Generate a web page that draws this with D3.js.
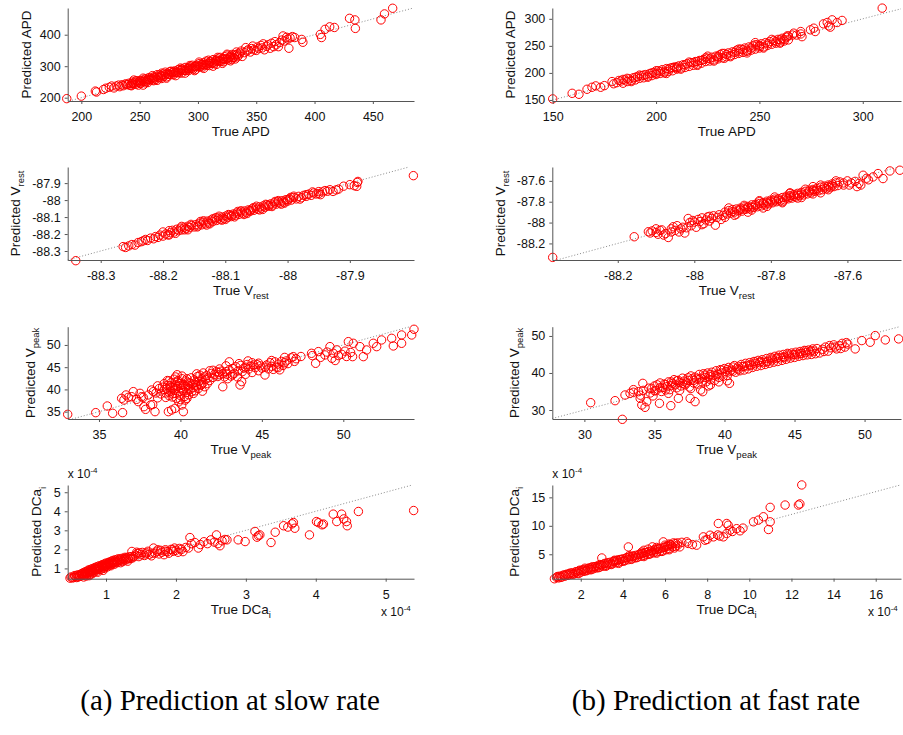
<!DOCTYPE html>
<html>
<head>
<meta charset="utf-8">
<script src="https://cdn.jsdelivr.net/npm/d3@7"></script>
<style>
  body { margin: 0; background: #fff; }
</style>
</head>
<body>
<div class="chart"></div>
<script>
// ---- DATA: [true, predicted] pairs ----

const apdSlow = [
  [187.5,197],[200,205],[212,221],[213,218],[219,226],[221,230],[224,233],[226,237],[228,231],[230,237],[232,240],[233,235],[235,241],[236,238],[238,244],[239,242],
  [240,241],[241,246],[242,239],[243,245],[244,250],[245,243],[246,249],[247,243],[248,253],[249,249],[250,247],[251,255],[252,251],[253,240],[253,256],[254,252],[255,260],[256,252],[257,259],[258,264],[259,256],[260,261],[261,256],[262,266],[263,263],[264,258],[265,268],[266,264],[267,273],[268,264],[269,270],[270,275],[271,268],[272,274],[273,266],[274,278],[275,274],[276,283],[277,273],[278,280],[279,273],[280,285],[281,281],[282,279],[283,289],[284,279],[285,287],[286,278],[287,291],[288,287],[289,296],[290,286],[291,292],[292,286],[293,298],[294,292],[295,303],[296,291],[297,299],[298,289],[299,303],[300,300],[301,308],[302,298],[303,306],[304,297],[305,311],[306,304],[307,316],[308,303],[309,310],[310,302],[311,316],[312,309],[313,321],[314,308],[315,317],[316,306],[317,323],[318,317],[319,328],[320,315],[321,324],[322,314],[323,330],[324,321],[325,335],[326,320],[327,329],[328,317],[329,337],[330,328],[331,336],[332,323],[333,345],[334,330],[336,342],[338,331],[340,343],
  [243,238],[247,254],[251,245],[255,247],[258,257],[262,254],[265,273],[269,261],[272,281],[276,274],[279,282],[283,281],[286,291],[289,286],[292,295],[295,294],[298,301],[301,298],[304,306],[307,306],[310,314],[313,311],[316,319],[319,317],[322,324],[325,324],[328,332],[331,327],[334,339],
  [245,256],[249,240],[253,262],[257,248],[261,270],[265,255],[269,278],[273,262],[277,284],[281,270],[285,294],[289,278],[293,302],[297,286],[301,313],[305,293],[309,319],[313,300],[317,328],[321,309],[325,338],[329,322],[333,336],[337,348],[244,244],[250,253],[256,256],[262,262],[268,269],[274,274],[280,279],[286,287],[292,291],[298,298],[304,303],[310,309],[316,315],[322,321],[328,328],[335,335],
  [341,359],[342,348],[343,352],[345,345],[346,356],[347,364],[348,352],[350,350],[351,361],[352,356],[354,366],[355,358],[356,371],[357,352],[359,363],[360,368],[362,357],[363,373],[365,362],[366,378],[367,368],[369,362],[370,375],[372,383],[373,396],[374,380],[376,392],[377,386],[378,357],[379,390],[381,394],[383,391],[389,385],[390,376],[405,401],[406,391],[409,417],[413,425],[417,423],[430,452],[434.6,447],[435,420],[457,447],[460,466],[467,484]
];

const apdFast = [
  [150,152],[159.4,162.3],[162.7,160.5],[166.6,169.8],[169,173.5],[170.8,176],[173.2,173.5],[175,176.5],[178.7,184],[179.5,180],[181,182],[183,185],[184,181],[185,187],[186,184],[187,189],[188,186],[189,191],[190,187],[191,193],[192,190],[193,195],[194,191],[195,197],[196,194],[197,199],[198,195],[199,201],[200,197],[201,204],[202,199],[203,206],[204,200],[205,208],[206,203],[207,209],[208,204],[209,211],[210,207],[211,213],[212,209],[213,215],[214,210],[215,217],[216,212],[217,219],[218,214],[219,221],[220,216],[221,223],[222,218],[223,225],[224,221],[225,227],[226,222],[227,229],[228,224],[229,231],[230,226],[231,234],[232,228],[233,236],[234,230],[235,237],[236,232],[237,239],[238,234],[239,242],[240,236],[241,244],[242,238],[243,246],[244,240],[245,248],[246,242],[247,250],[248,244],[249,252],[250,246],[251,254],[252,248],[253,256],[254,251],[255,258],[256,253],[257,260],[258,255],[259,262],[260,257],[261,264],[262,259],[263,266],[264,261],
  [182,186],[186,190],[190,192],[194,196],[198,200],[202,203],[206,207],[210,211],[214,215],[218,219],[222,223],[226,226],[230,231],[234,234],[238,238],[242,243],[246,246],[250,251],[254,254],[258,258],[262,262],[225,231],[233,227],[244,237],[248,256],[205,199],
  [184,188],[188,184],[192,196],[196,192],[200,204],[204,202],[208,210],[212,207],[216,220],[220,214],[224,228],[228,222],[232,236],[236,230],[240,244],[244,242],[248,252],[252,246],[256,262],[260,255],[264,268],[200,199],[210,209],[220,221],[230,229],[240,239],[250,249],[260,261],[266,270],[270,272],
  [263.5,268.5],[266.6,273.5],[268,270],[270,276.5],[270.6,267],[274.7,279.6],[276.3,282.7],[277,276.5],[281,290.7],[282.8,293.2],[283.5,287],[284.3,284.6],[285.2,298.1],[287.6,293.2],[290,297],[309.4,319.8]
];

const vrestSlow = [
  [-88.34,-88.357],[-88.264,-88.274],[-88.26,-88.279],[-88.255,-88.27],[-88.25,-88.262],[-88.245,-88.265],[-88.24,-88.25],[-88.235,-88.245],[-88.232,-88.24],[-88.228,-88.232],[-88.225,-88.238],[-88.22,-88.224],[-88.215,-88.228],[-88.212,-88.215],[-88.208,-88.22],[-88.205,-88.206],[-88.2,-88.212],[-88.196,-88.2],[-88.192,-88.205],[-88.188,-88.192],[-88.185,-88.178],[-88.182,-88.188],[-88.178,-88.172],[-88.175,-88.18],[-88.172,-88.165],[-88.17,-88.176],[-88.166,-88.16],[-88.163,-88.168],[-88.16,-88.154],[-88.157,-88.162],[-88.154,-88.15],[-88.15,-88.158],[-88.147,-88.144],[-88.144,-88.152],[-88.141,-88.136],[-88.138,-88.146],[-88.135,-88.13],[-88.132,-88.14],[-88.129,-88.124],[-88.126,-88.134],[-88.123,-88.118],[-88.12,-88.127],[-88.117,-88.112],[-88.114,-88.12],[-88.111,-88.106],[-88.108,-88.115],[-88.105,-88.1],[-88.102,-88.109],[-88.099,-88.094],[-88.096,-88.103],[-88.093,-88.088],[-88.09,-88.097],[-88.087,-88.082],[-88.084,-88.09],[-88.081,-88.076],[-88.078,-88.084],[-88.075,-88.07],[-88.072,-88.078],[-88.069,-88.064],[-88.066,-88.072],[-88.063,-88.058],[-88.06,-88.066],[-88.057,-88.052],[-88.054,-88.06],[-88.051,-88.046],[-88.048,-88.054],[-88.045,-88.04],[-88.042,-88.048],[-88.039,-88.034],[-88.036,-88.042],[-88.033,-88.028],[-88.03,-88.036],[-88.027,-88.022],[-88.024,-88.03],[-88.021,-88.016],[-88.018,-88.024],[-88.015,-88.01],[-88.012,-88.018],[-88.009,-88.004],[-88.006,-88.012],[-88.003,-87.998],[-88,-88.006],[-87.997,-87.992],[-87.994,-88],[-87.99,-87.985],[-87.986,-87.993],[-87.982,-87.978],[-87.978,-87.986],[-87.974,-87.972],[-87.97,-87.978],[-87.966,-87.965],[-87.962,-87.972],[-87.958,-87.958],[-87.954,-87.964],[-87.95,-87.95],[-87.947,-87.968],[-87.944,-87.952],[-87.94,-87.944],[-87.936,-87.948],[-87.932,-87.939],[-87.927,-87.949],[-87.922,-87.94],[-87.918,-87.935],[-87.91,-87.918],[-87.9,-87.909],[-87.893,-87.915],[-87.889,-87.919],[-87.888,-87.896],[-87.887,-87.89],[-87.798,-87.856],
  [-88.19,-88.18],[-88.18,-88.196],[-88.165,-88.175],[-88.155,-88.143],[-88.145,-88.158],[-88.135,-88.122],[-88.125,-88.14],[-88.115,-88.103],[-88.105,-88.118],[-88.095,-88.085],[-88.085,-88.099],[-88.075,-88.063],[-88.065,-88.079],[-88.055,-88.045],[-88.045,-88.058],[-88.035,-88.025],[-88.025,-88.038],[-88.015,-88.003],[-88.005,-88.018],[-87.995,-87.984],
  [-88.2,-88.188],[-88.19,-88.205],[-88.17,-88.155],[-88.16,-88.175],[-88.14,-88.126],[-88.13,-88.147],[-88.11,-88.095],[-88.1,-88.114],[-88.08,-88.067],[-88.07,-88.085],[-88.05,-88.036],[-88.04,-88.055],[-88.02,-88.008],[-88.01,-88.024],[-87.99,-87.977],[-87.98,-87.994],[-87.96,-87.952],[-87.95,-87.962],[-88.12,-88.11],[-88.09,-88.09],[-88.06,-88.06],[-88.03,-88.03],[-88.0,-87.997],[-87.97,-87.968]
];

const vrestFast = [
  [-88.37,-88.334],[-88.157,-88.136],
  [-88.12,-88.088],[-88.115,-88.1],[-88.11,-88.08],[-88.1,-88.095],[-88.095,-88.112],[-88.09,-88.075],[-88.085,-88.07],[-88.08,-88.12],[-88.075,-88.105],[-88.068,-88.143],[-88.06,-88.06],[-88.055,-88.04],[-88.05,-88.075],[-88.045,-88.03],[-88.04,-88.09],[-88.035,-88.06],[-88.03,-88.045],[-88.025,-88.1],[-88.02,-88.05],[-88.016,-87.961],[-88.012,-88.0],[-88.008,-88.03],[-88.004,-87.98],[-88,-87.995],[-87.995,-88.045],[-87.99,-87.97],[-87.985,-87.99],[-87.98,-87.955],[-87.975,-88.01],[-87.97,-87.975],[-87.965,-87.945],[-87.96,-87.985],[-87.955,-87.96],[-87.95,-87.935],[-87.945,-88.025],[-87.94,-87.95],[-87.935,-87.925],[-87.93,-87.97],
  [-87.925,-87.93],[-87.92,-87.9],[-87.915,-87.918],[-87.91,-87.885],[-87.905,-87.91],[-87.9,-87.875],[-87.895,-87.9],[-87.89,-87.87],[-87.885,-87.888],[-87.88,-87.862],[-87.875,-87.89],[-87.87,-87.85],[-87.865,-87.872],[-87.86,-87.845],[-87.855,-87.868],[-87.85,-87.83],[-87.845,-87.855],[-87.84,-87.825],[-87.835,-87.848],[-87.83,-87.818],[-87.825,-87.84],[-87.82,-87.808],[-87.815,-87.83],[-87.81,-87.795],[-87.805,-87.82],[-87.8,-87.785],[-87.795,-87.81],[-87.79,-87.775],[-87.785,-87.8],[-87.78,-87.77],[-87.775,-87.79],[-87.77,-87.76],[-87.765,-87.782],[-87.76,-87.748],[-87.755,-87.772],[-87.75,-87.74],[-87.745,-87.765],[-87.74,-87.73],[-87.735,-87.755],[-87.73,-87.72],[-87.725,-87.742],[-87.72,-87.71],[-87.715,-87.735],[-87.71,-87.7],[-87.705,-87.725],[-87.7,-87.69],[-87.695,-87.715],[-87.69,-87.682],[-87.685,-87.7],[-87.68,-87.672],[-87.675,-87.695],[-87.67,-87.66],[-87.665,-87.685],[-87.66,-87.65],[-87.655,-87.675],[-87.65,-87.64],[-87.645,-87.665],[-87.64,-87.63],[-87.635,-87.655],[-87.63,-87.62],[-87.625,-87.645],[-87.62,-87.61],
  [-87.9,-87.895],[-87.88,-87.878],[-87.86,-87.858],[-87.84,-87.838],[-87.82,-87.82],[-87.8,-87.8],[-87.78,-87.782],[-87.76,-87.762],[-87.74,-87.745],[-87.72,-87.725],[-87.7,-87.705],[-87.68,-87.688],[-87.66,-87.668],[-87.64,-87.648],[-87.895,-87.93],[-87.86,-87.9],[-87.82,-87.86],[-87.77,-87.81],[-87.72,-87.76],[-87.67,-87.715],[-87.69,-87.655],[-87.75,-87.715],[-87.83,-87.79],
  [-87.92,-87.95],[-87.91,-87.86],[-87.89,-87.92],[-87.87,-87.835],[-87.85,-87.88],[-87.83,-87.8],[-87.81,-87.845],[-87.79,-87.755],[-87.77,-87.8],[-87.75,-87.72],[-87.73,-87.765],[-87.71,-87.68],[-87.69,-87.725],[-87.67,-87.64],[-87.65,-87.685],[-87.63,-87.6],[-87.61,-87.64],[-87.87,-87.87],[-87.85,-87.85],[-87.81,-87.81],[-87.79,-87.79],[-87.75,-87.755],[-87.73,-87.735],[-87.69,-87.695],[-87.65,-87.655],[-87.61,-87.62],[-87.96,-87.94],[-87.98,-88.02],[-88.06,-88.09],[-88.1,-88.06],
  [-87.6,-87.6],[-87.595,-87.64],[-87.59,-87.62],[-87.58,-87.605],[-87.575,-87.655],[-87.57,-87.625],[-87.565,-87.64],[-87.559,-87.546],[-87.55,-87.575],[-87.545,-87.59],[-87.533,-87.562],[-87.52,-87.53],[-87.507,-87.578],[-87.489,-87.505],[-87.463,-87.498]
];

const vpeakSlow = [
  [33.08,34.4],[34.8,34.78],[35.51,36.27],[35.84,34.63],[36.39,38.0],[36.45,34.78],[36.53,37.62],[36.66,38.75],[36.8,38.22],[37.0,38.37],[37.11,39.5],[37.31,37.77],[37.41,37.25],[37.52,39.12],[37.62,38.37],[37.72,38.22],[37.76,36.12],[37.86,35.52],[38.03,38.75],[38.23,39.87],[38.34,39.5],[38.44,35.0],[38.17,36.5],[38.3,36.6],[38.5,39.2],[38.6,38.1],[38.7,40.2],[38.8,39.0],
  [39.26,35.0],[39.46,35.37],[39.67,35.75],[40.08,36.5],[40.18,35.0],[39.9,37.2],[40.3,37.6],
  [38.9,40.5],[39.0,41.3],[39.1,39.2],[39.15,40.1],[39.2,42.0],[39.3,38.6],[39.35,40.8],[39.4,39.6],[39.45,41.6],[39.5,38.3],[39.55,40.3],[39.6,42.3],[39.65,39.1],[39.7,41.0],[39.75,38.0],[39.8,40.6],[39.85,42.0],[39.9,39.4],[39.95,41.4],[40.0,38.6],[40.05,40.2],[40.1,42.4],[40.15,39.8],[40.2,41.1],[40.25,38.4],[40.3,40.6],[40.35,41.9],[40.4,39.3],[40.45,40.9],[40.5,38.8],[40.55,41.5],[40.6,40.0],[40.65,42.6],[40.7,39.5],[40.75,41.2],[40.8,40.4],[40.85,42.1],[40.9,39.7],[40.95,41.6],[41.0,40.8],[41.05,42.9],[41.1,40.2],[41.15,41.8],[41.2,43.2],[41.25,40.9],[41.3,42.4],[41.35,39.6],[41.4,41.5],[41.45,42.8],[41.5,40.6],[41.55,42.2],[41.6,43.1],[41.65,41.3],[41.7,42.6],
  [39.0,40.0],[39.2,40.9],[39.4,40.4],[39.6,39.8],[39.8,41.7],[40.0,40.9],[40.2,39.6],[40.4,42.4],[40.6,41.4],[40.8,39.1],[39.3,41.9],[39.7,42.8],[40.1,43.0],[39.1,38.2],[39.5,39.0],[40.0,37.7],[40.4,38.0],
  [42.0,44.3],[42.4,44.6],[42.8,45.3],[43.2,43.3],[43.6,45.8],[44.0,45.0],[44.4,46.0],[44.8,45.9],[45.2,45.0],[45.6,46.5],[46.0,44.9],[46.4,46.0],[41.0,43.5],[41.4,43.7],[41.8,44.2],[39.3,39.4],[39.7,40.2],[40.1,41.0],[40.5,40.2],[40.9,41.0],[41.3,41.1],[38.6,40.8],[39.8,43.3],
  [41.8,42.0],[41.9,43.6],[42.0,42.7],[42.1,43.4],[42.2,44.0],[42.3,42.9],[42.35,43.8],[42.4,43.3],[42.5,44.1],[42.6,40.6],[42.6,43.5],[42.7,42.8],[42.8,44.0],[42.85,43.4],[42.9,42.4],[43.0,46.2],[43.0,44.4],[43.1,43.0],[43.2,44.7],[43.3,43.6],[43.4,45.1],[43.5,42.8],[43.55,44.2],[43.66,41.0],[43.7,45.4],[43.76,41.75],[43.8,44.0],[43.9,44.8],[44.0,43.4],[44.1,45.6],[44.15,46.4],[44.2,44.6],[44.3,45.2],[44.4,43.8],[44.5,45.5],[44.6,44.9],[44.7,45.6],[44.8,44.2],[44.9,45.3],
  [45.0,44.8],[45.19,43.25],[45.3,45.5],[45.4,44.6],[45.5,46.0],[45.6,45.2],[45.7,44.5],[45.8,46.2],[45.9,45.0],[46.0,45.7],[46.1,44.4],[46.2,46.3],[46.3,45.4],[46.4,47.2],[46.5,46.4],[46.6,45.8],[46.8,47.1],[46.93,47.37],[47.0,46.3],[47.1,46.9],[47.4,47.4],
  [48.05,48.12],[48.1,47.6],[48.3,45.87],[48.47,48.5],[48.6,47.2],[48.87,47.75],[49.0,48.4],[49.18,49.62],[49.3,47.0],[49.39,48.12],[49.5,46.5],[49.6,48.9],[49.7,47.6],[49.9,47.9],[50.1,48.6],[50.2,47.4],[50.31,50.74],[50.45,48.3],[50.57,47.37],[50.61,50.37],[51.02,49.62],[51.23,47.37],[51.43,48.87],[51.84,50.37],[52.05,49.62],[52.35,51.12],[52.97,51.49],[53.07,49.77],[53.58,50.37],[53.58,52.24],[54.2,52.24],[54.34,53.52]
];

const vpeakFast = [
  [30.45,31.98],[32.19,32.52],[32.71,27.48],[32.9,34.05],[33.26,34.5],[33.5,34.8],[33.86,34.95],[33.98,33.15],[34.1,31.35],[34.17,37.2],[34.2,35.3],[34.33,30.72],[34.45,32.25],[34.6,35.9],[34.7,34.6],[34.81,35.85],[35.0,36.5],[35.1,35.2],[35.36,31.8],[35.4,37.3],[35.6,36.1],[35.8,35.4],[36.17,31.17],[36.0,37.6],[36.2,36.6],[36.4,38.2],[36.71,33.15],[36.6,36.0],[36.8,37.4],[37.0,38.6],[37.2,36.8],[37.4,38.0],[37.55,33.15],[37.6,39.2],[37.8,37.3],[37.9,32.25],[38.0,38.4],[38.2,39.6],[38.45,34.95],[38.4,37.6],[38.6,38.8],[38.86,36.5],[38.8,40.0],[39.0,38.2],[39.2,39.4],[39.4,40.6],[39.6,38.8],[39.8,40.0],[40.0,41.2],[40.2,39.3],[40.36,37.2],[40.4,40.5],[40.6,41.6],[40.8,40.2],[41.0,41.0],[41.2,42.3],[41.4,40.8],[41.6,41.9],[41.8,42.8],[42.0,41.5],[42.2,42.5],[42.4,43.4],[42.6,42.0],[42.8,42.9],[43.0,43.9],[43.2,42.6],[43.4,43.5],[43.6,44.5],[43.8,43.1],[44.0,44.1],[44.2,45.0],[44.4,43.7],[44.6,44.6],[44.8,45.4],[45.0,44.2],[45.2,45.1],[45.4,45.8],[45.6,44.7],[45.8,45.5],[46.0,46.2],[46.2,45.0],[46.4,45.9],[46.6,46.6],[46.8,45.4],[47.0,46.4],[47.2,47.0],[47.4,45.9],[47.6,46.8],[47.8,47.6],[48.0,46.5],[48.2,47.4],[48.4,48.0],[48.6,47.0],[48.8,47.8],[49.33,46.5],[49.8,48.75],[50.4,48.3],[50.76,50.1],[51.48,48.93],[52.43,49.2],
  [35.2,36.8],[35.5,35.0],[35.7,37.0],[35.9,36.3],[36.1,35.5],[36.3,37.2],[36.5,36.8],[36.7,38.0],[36.9,36.5],[37.1,37.8],[37.3,37.3],[37.5,36.2],[37.7,38.4],[37.9,38.9],[38.1,37.0],[38.3,38.6],[38.5,39.8],[38.7,37.6],[38.9,39.1],[39.1,40.2],[39.3,38.0],[39.5,39.7],[39.7,40.9],[39.9,39.1],[40.1,40.4],[40.3,41.5],[40.5,40.8],[40.7,42.0],[40.9,41.3],[41.1,40.6],[41.3,41.7],[41.5,42.6],[41.7,41.1],[41.9,42.1],[42.1,43.1],[42.3,41.8],[42.5,42.8],[42.7,43.6],[42.9,42.3],[43.1,43.2],[43.3,44.2],[43.5,42.9],[43.7,43.9],[43.9,44.8],[44.1,43.4],[44.3,44.3],[44.5,45.3],[44.7,44.0],[44.9,44.9],[45.1,45.6],[45.3,44.5],[45.5,45.3],[45.7,46.1],[45.9,44.9],[46.1,45.7],[46.3,46.5],[46.5,45.2],[47.1,45.8],[47.5,47.4],[47.9,47.0],[48.3,46.6],[48.7,48.2],[38.3,35.4],[39.0,36.8],[39.6,37.6],[40.2,37.9],
  [35.0,35.2],[35.4,36.0],[35.8,36.9],[36.2,37.6],[36.6,37.9],[37.0,37.2],[37.4,38.7],[37.8,38.0],[38.2,38.3],[38.6,39.4],[39.0,39.6],[39.4,39.2],[39.8,40.8],[40.2,40.9],[40.6,40.5],[41.0,41.8],[41.4,41.8],[41.8,42.2],[42.2,43.0],[42.6,43.1],[43.0,43.0],[43.4,44.0],[43.8,44.2],[44.2,44.3],[44.6,45.1],[45.0,45.0],[45.4,45.3],[45.8,46.0],[46.2,46.0],[36.0,34.5],[36.8,35.3],[37.6,35.8],[34.9,33.8],[34.0,34.0],[33.5,35.5]
];

// DCa values are in units of 1e-4
const dcaSlow = [
  [0.485,0.49],[0.52,0.5],[0.56,0.58],[0.58,0.52],[0.6,0.65],[0.62,0.58],[0.64,0.7],[0.65,0.62],[0.67,0.76],[0.68,0.66],[0.7,0.82],[0.71,0.7],[0.72,0.6],[0.73,0.86],[0.74,0.76],[0.75,0.92],[0.76,0.8],[0.77,0.68],[0.78,0.95],[0.79,0.85],[0.8,0.98],[0.81,0.9],[0.82,0.78],[0.83,1.02],[0.84,0.94],[0.85,1.06],[0.86,0.98],[0.87,0.86],[0.88,1.1],[0.89,1.02],[0.9,1.13],[0.91,1.05],[0.92,0.94],[0.93,1.16],[0.94,1.08],[0.95,1.2],[0.96,1.12],[0.97,1.0],[0.98,1.24],[0.99,1.16],[1.0,1.28],[1.01,1.19],[1.02,1.08],[1.03,1.3],[1.04,1.22],[1.05,1.34],[1.06,1.26],[1.07,1.14],[1.08,1.38],[1.09,1.3],[1.1,1.42],[1.11,1.33],[1.12,1.22],[1.13,1.45],[1.15,1.37],[1.17,1.5],[1.19,1.4],[1.21,1.3],[1.23,1.53],[1.25,1.46],[1.27,1.58],[1.29,1.5],[1.31,1.38],[1.33,1.6],[1.35,1.52],
  [0.55,0.62],[0.6,0.55],[0.66,0.68],[0.7,0.75],[0.74,0.7],[0.78,0.88],[0.82,0.86],[0.86,0.92],[0.9,1.0],[0.94,1.14],[0.98,1.08],[1.02,1.2],[1.06,1.18],[1.1,1.28],[1.14,1.3],[1.18,1.45],[1.22,1.4],[1.26,1.52],[1.3,1.58],[0.68,0.55],[0.76,0.62],[0.8,0.72],[0.88,0.8],[0.96,0.9],
  [0.5,0.55],[0.54,0.52],[0.58,0.64],[0.62,0.66],[0.66,0.74],[0.7,0.65],[0.72,0.8],[0.76,0.86],[0.8,0.84],[0.84,1.0],[0.88,0.95],[0.92,1.08],[0.96,1.04],[1.0,1.1],[1.04,1.28],[1.08,1.22],[1.12,1.38],[1.16,1.3],[1.2,1.5],[1.24,1.36],[1.28,1.44],[1.32,1.5],[1.36,1.62],[1.38,1.55],[1.44,1.85],[1.48,1.82],[1.58,1.82],[1.66,1.8],[1.74,1.98],[1.85,1.9],[1.95,1.98],[2.05,2.05],
  [1.37,1.89],[1.4,1.62],[1.42,1.7],[1.45,1.78],[1.47,1.62],[1.5,1.72],[1.52,1.84],[1.55,1.68],[1.57,1.76],[1.6,1.9],[1.62,1.74],[1.65,1.66],[1.68,2.07],[1.7,1.8],[1.73,1.9],[1.76,1.76],[1.78,1.95],[1.8,1.85],[1.83,1.72],[1.85,1.98],[1.88,1.88],[1.9,1.8],[1.93,2.0],[1.96,1.9],[1.98,2.07],[2.0,1.95],[2.03,1.85],[2.08,2.0],[2.1,1.88],[2.14,2.1],[2.18,2.07],[2.2,2.62],[2.22,2.3],[2.27,2.36],[2.32,2.07],[2.35,2.25],[2.4,2.4],[2.45,2.3],[2.5,2.5],[2.55,2.38],[2.58,2.76],[2.6,2.3],[2.63,2.19],[2.66,2.45],[2.7,2.52],[2.73,2.5],[2.89,2.5],[2.99,2.41],[3.13,2.94],[3.16,2.64],[3.18,2.72],[3.2,2.76],[3.36,2.36],[3.42,2.9],[3.54,3.24],[3.6,3.17],[3.66,3.34],[3.68,3.41],[3.7,3.11],[3.91,2.76],[4.01,3.46],[4.04,3.4],[4.09,3.29],[4.11,3.33],[4.25,3.85],[4.3,3.46],[4.37,3.85],[4.4,3.6],[4.44,3.46],[4.45,3.24],[4.61,3.99],[5.4,4.04]
];

const dcaFast = [
  [0.75,0.7],[0.85,0.95],[0.95,0.85],[1.0,1.15],[1.1,1.0],[1.15,1.3],[1.25,1.15],[1.3,1.45],[1.4,1.3],[1.45,1.6],[1.55,1.45],[1.6,1.75],[1.7,1.6],[1.75,1.9],[1.85,1.7],[1.9,2.05],[2.0,1.85],[2.05,2.2],[2.15,2.0],[2.2,2.35],[2.3,2.15],[2.35,2.5],[2.45,2.3],[2.5,2.65],[2.6,2.45],[2.65,2.8],[2.75,2.6],[2.8,2.95],[2.9,2.75],[2.95,3.1],[3.0,4.35],[3.05,2.9],[3.1,3.3],[3.2,3.05],[3.25,3.45],[3.35,3.2],[3.4,3.6],[3.5,3.35],[3.55,3.75],[3.65,3.5],[3.7,3.9],[3.8,3.6],[3.85,4.05],[3.95,3.75],[4.0,4.2],[4.1,3.9],[4.15,4.35],[4.25,4.05],[4.26,6.29],[4.3,4.5],[4.4,4.2],[4.45,4.65],[4.55,4.35],[4.6,4.8],[4.7,4.5],[4.75,4.95],[4.85,4.65],[4.9,5.1],[5.0,4.8],[5.05,5.3],[5.15,4.95],[5.2,5.45],[5.3,5.1],[5.35,5.6],[5.45,5.25],[5.5,5.75],[5.6,5.4],[5.65,5.9],[5.75,5.5],[5.8,6.05],[5.9,5.6],[5.92,7.18],[5.95,6.2],[6.05,5.8],[6.1,6.4],[6.2,6.0],[6.25,6.7],[6.35,6.3],[6.4,7.0],[6.5,6.4],[6.6,6.6],[6.7,6.3],[7.03,7.18],[7.1,6.9],[7.3,6.7],[7.5,6.6],[7.82,8.06],[7.9,7.47],[8.0,7.6],[8.14,8.35],[8.3,8.06],[8.53,10.41],[8.5,8.4],[8.6,8.2],[8.77,8.06],[8.93,8.65],[8.93,10.41],[9.0,10.1],[9.09,9.24],[9.2,9.0],[9.4,9.5],[9.56,9.12],[9.7,9.6],[10.2,10.7],[10.43,11.0],[10.67,11.59],[10.99,10.7],[10.91,9.35],[10.99,13.24],[11.7,13.65],[12.33,13.65],[12.4,13.85],[12.49,17.18],
  [1.2,1.35],[1.5,1.7],[1.8,1.95],[2.1,2.25],[2.4,2.6],[2.7,2.85],[3.0,3.15],[3.3,3.5],[3.6,3.8],[3.9,4.1],[4.2,4.4],[4.5,4.7],[4.8,5.0],[5.1,5.3],[5.4,5.6],[5.7,6.0],[6.0,6.3],[6.3,6.6],[1.9,1.6],[2.5,2.3],[3.2,2.9],[3.8,3.4],[4.4,4.1],[5.0,4.6],[5.6,5.2],[6.2,5.8],[6.5,6.9],[6.8,7.1],[5.2,5.9],[5.0,5.7],
  [0.9,1.1],[1.05,0.95],[1.35,1.5],[1.65,1.5],[1.95,2.2],[2.25,2.1],[2.55,2.8],[2.85,2.65],[3.15,3.4],[3.45,3.2],[3.75,4.0],[4.05,3.8],[4.35,4.6],[4.65,4.4],[4.95,5.2],[5.25,5.0],[5.55,5.9],[5.85,5.5],[6.15,6.5],[6.45,6.1],[2.2,2.55],[2.9,3.2],[3.6,3.95],[4.3,4.75],[4.9,5.4],[5.6,6.2],[6.0,6.6],[6.6,7.0],[6.2,6.8],[5.4,6.3]
];

// axis limits [min, max] for true (x) and predicted (y)
const apdSlowLim = [[188.3, 485.3], [189.5, 484.8]];
const apdFastLim = [[149.8, 318.5], [148.1, 320]];
const vrestSlowLim = [[-88.353, -87.797], [-88.353, -87.805]];
const vrestFastLim = [[-88.371, -87.46], [-88.359, -87.467]];
const vpeakSlowLim = [[33.08, 54.34], [33.35, 54.1]];
const vpeakFastLim = [[27.71, 52.6], [27.57, 52.5]];
const dcaSlowLim = [[0.452, 5.405], [0.46, 5.38]];
const dcaFastLim = [[0.65, 17.2], [0.71, 17.17]];

// tick labels
const apdSlowTicks = [[200, 250, 300, 350, 400, 450], [200, 300, 400]];
const apdFastTicks = [[150, 200, 250, 300], [150, 200, 250, 300]];
const vrestSlowTicks = [[-88.3, -88.2, -88.1, -88, -87.9], [-88.3, -88.2, -88.1, -88, -87.9]];
const vrestFastTicks = [[-88.2, -88, -87.8, -87.6], [-88.2, -88, -87.8, -87.6]];
const vpeakSlowTicks = [[35, 40, 45, 50], [35, 40, 45, 50]];
const vpeakFastTicks = [[30, 35, 40, 45, 50], [30, 40, 50]];
const dcaSlowTicks = [[1, 2, 3, 4, 5], [1, 2, 3, 4, 5]];
const dcaFastTicks = [[2, 4, 6, 8, 10, 12, 14, 16], [5, 10, 15]];

// axis names: [main, subscript]
const quantities = [['APD', ''], ['V', 'rest'], ['V', 'peak'], ['DCa', 'i']];
const captions = ['(a) Prediction at slow rate', '(b) Prediction at fast rate'];

// ---- LAYOUT ----
const width = 903, height = 735;
const cols = [{ left: 67.7, right: 414 }, { left: 552.3, right: 901 }];
const rows = [{ top: 8, bottom: 101 }, { top: 167, bottom: 260 }, { top: 326.7, bottom: 419 }, { top: 485, bottom: 578.7 }];

const panels = [
  { data: apdSlow, lim: apdSlowLim, ticks: apdSlowTicks, row: 0, col: 0 },
  { data: apdFast, lim: apdFastLim, ticks: apdFastTicks, row: 0, col: 1 },
  { data: vrestSlow, lim: vrestSlowLim, ticks: vrestSlowTicks, row: 1, col: 0 },
  { data: vrestFast, lim: vrestFastLim, ticks: vrestFastTicks, row: 1, col: 1 },
  { data: vpeakSlow, lim: vpeakSlowLim, ticks: vpeakSlowTicks, row: 2, col: 0 },
  { data: vpeakFast, lim: vpeakFastLim, ticks: vpeakFastTicks, row: 2, col: 1 },
  { data: dcaSlow, lim: dcaSlowLim, ticks: dcaSlowTicks, row: 3, col: 0, exp: true },
  { data: dcaFast, lim: dcaFastLim, ticks: dcaFastTicks, row: 3, col: 1, exp: true }
];

const svg = d3.select('.chart')
  .append('svg')
  .attr('width', width)
  .attr('height', height)
  .style('font-family', '"Liberation Sans", Arial, sans-serif');

function addLabel(sel, main, sub) {
  sel.append('tspan').text(main);
  if (sub) sel.append('tspan').text(sub).attr('font-size', 9.5).attr('dy', '0.45em');
}

panels.forEach(p => {
  const c = cols[p.col], r = rows[p.row];
  const q = quantities[p.row];

  const x = d3.scaleLinear().domain(p.lim[0]).range([c.left, c.right]);
  const y = d3.scaleLinear().domain(p.lim[1]).range([r.bottom, r.top]);

  const g = svg.append('g');

  // identity line
  const lo = Math.max(p.lim[0][0], p.lim[1][0]);
  const hi = Math.min(p.lim[0][1], p.lim[1][1]);
  g.append('line')
    .attr('x1', x(lo)).attr('y1', y(lo))
    .attr('x2', x(hi)).attr('y2', y(hi))
    .attr('stroke', '#8a8a8a')
    .attr('stroke-width', 1)
    .attr('stroke-dasharray', '1,2');

  // DRAW POINTS
  g.selectAll('circle')
    .data(p.data)
    .join('circle')
    .attr('cx', d => x(d[0]))
    .attr('cy', d => y(d[1]))
    .attr('r', 4.2)
    .attr('fill', 'none')
    .attr('stroke', '#f00')
    .attr('stroke-width', 1);

  // DRAW AXES
  const xAxis = g.append('g')
    .attr('transform', `translate(0,${r.bottom})`)
    .call(d3.axisBottom(x).tickValues(p.ticks[0]).tickFormat(d => String(d)).tickSize(3).tickSizeOuter(0).tickPadding(8));
  const yAxis = g.append('g')
    .attr('transform', `translate(${c.left},0)`)
    .call(d3.axisLeft(y).tickValues(p.ticks[1]).tickFormat(d => String(d)).tickSize(3).tickSizeOuter(0).tickPadding(4));

  [xAxis, yAxis].forEach(a => {
    a.attr('font-family', null).attr('font-size', 12.5);
    a.select('.domain').attr('stroke', '#555');
    a.selectAll('.tick line').attr('stroke', '#555');
    a.selectAll('.tick text').attr('fill', '#111');
  });

  // x label
  const xl = g.append('text')
    .attr('x', (c.left + c.right) / 2)
    .attr('y', r.bottom + 35)
    .attr('text-anchor', 'middle')
    .attr('font-size', 13.5)
    .attr('fill', '#111');
  addLabel(xl, 'True ' + q[0], q[1]);

  // y label, set just left of the tick labels
  const tickLeft = yAxis.node().getBBox().x + c.left;
  const cy = (r.top + r.bottom) / 2;
  const yl = g.append('text')
    .attr('text-anchor', 'middle')
    .attr('font-size', 13.5)
    .attr('fill', '#111')
    .attr('transform', `translate(0,${cy}) rotate(-90)`);
  addLabel(yl, 'Predicted ' + q[0], q[1]);
  const bb = yl.node().getBoundingClientRect();
  yl.attr('transform', `translate(${tickLeft - 6 - bb.right},${cy}) rotate(-90)`);

  // exponent notes
  if (p.exp) {
    const e1 = g.append('text').attr('x', c.left).attr('y', r.top - 7).attr('font-size', 12).attr('fill', '#111');
    e1.append('tspan').text('x 10');
    e1.append('tspan').text('-4').attr('font-size', 8).attr('dy', '-0.6em');
    const e2 = g.append('text').attr('x', c.right - 33).attr('y', r.bottom + 37).attr('font-size', 12).attr('fill', '#111');
    e2.append('tspan').text('x 10');
    e2.append('tspan').text('-4').attr('font-size', 8).attr('dy', '-0.6em');
  }
});

// CAPTIONS
svg.selectAll('.caption')
  .data(captions)
  .join('text')
  .attr('class', 'caption')
  .attr('x', (d, i) => [230, 716][i])
  .attr('y', 710)
  .attr('text-anchor', 'middle')
  .attr('font-family', '"Liberation Serif", "DejaVu Serif", serif')
  .attr('font-size', 29)
  .attr('fill', '#000')
  .text(d => d);
</script>
</body>
</html>
